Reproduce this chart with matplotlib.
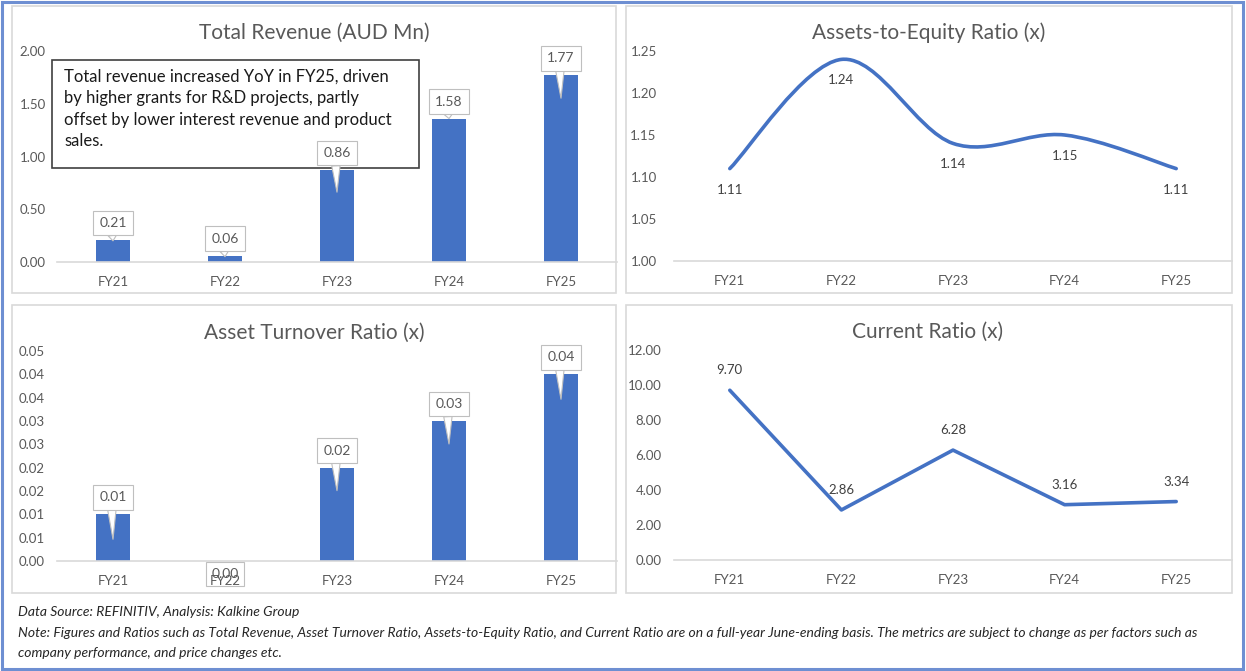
import matplotlib
matplotlib.use("Agg")
import matplotlib.pyplot as plt
import matplotlib.transforms as mtransforms
from matplotlib.patches import Rectangle, PathPatch
from matplotlib.path import Path

plt.rcParams['font.family'] = ['Lato', 'DejaVu Sans']

# --- data ---
years = ["FY21", "FY22", "FY23", "FY24", "FY25"]
revenue_bars = [0.21, 0.06, 0.87, 1.36, 1.77]      # bar heights as drawn
revenue_labels = ["0.21", "0.06", "0.86", "1.58", "1.77"]
asset_turnover = [0.01, 0.0, 0.02, 0.03, 0.04]
asset_turnover_labels = ["0.01", "0.00", "0.02", "0.03", "0.04"]
assets_to_equity = [1.11, 1.24, 1.14, 1.15, 1.11]
current_ratio = [9.70, 2.86, 6.28, 3.16, 3.34]

rev_ticks = [0.0, 0.5, 1.0, 1.5, 2.0]
ate_ticks = [1.00, 1.05, 1.10, 1.15, 1.20, 1.25]
at_ticks = [0.0, 0.005, 0.01, 0.015, 0.02, 0.025, 0.03, 0.035, 0.04, 0.045]
at_ticklabels = ["0.00", "0.01", "0.01", "0.02", "0.02", "0.03", "0.03", "0.04", "0.04", "0.05"]
cr_ticks = [0, 2, 4, 6, 8, 10, 12]

note_text = "Total revenue increased YoY in FY25, driven\nby higher grants for R&D projects, partly\noffset by lower interest revenue and product\nsales."
foot1 = "Data Source: REFINITIV, Analysis: Kalkine Group"
foot2 = ("Note: Figures and Ratios such as Total Revenue, Asset Turnover Ratio, Assets-to-Equity Ratio, and Current Ratio "
         "are on a full-year June-ending basis. The metrics are subject to change as per factors such as")
foot3 = "company performance, and price changes etc."

BLUE = "#4472C4"
GREY_TXT = "#595959"
W, H = 1246, 671

fig = plt.figure(figsize=(W / 100, H / 100), dpi=100)


def px_axes(l, t, r, b):
    return fig.add_axes([l / W, 1 - b / H, (r - l) / W, (b - t) / H])


def style(ax, ticks, ticklabels, pad_y):
    ax.set_xlim(-0.5, 4.5)
    ax.set_xticks(range(len(years)))
    ax.set_xticklabels(years)
    ax.set_yticks(ticks)
    ax.set_yticklabels(ticklabels)
    ax.set_ylim(ticks[0], ticks[-1])
    for s in ["top", "right", "left"]:
        ax.spines[s].set_visible(False)
    ax.spines["bottom"].set_color("#D9D9D9")
    ax.spines["bottom"].set_linewidth(1.2)
    ax.tick_params(axis="both", length=0, labelsize=9.5, colors=GREY_TXT)
    ax.tick_params(axis="x", pad=10)
    ax.tick_params(axis="y", pad=pad_y)
    ax.patch.set_alpha(0)


def callouts(ax, vals, labels, tips):
    for i, (v, lab, tp) in enumerate(zip(vals, labels, tips)):
        if v == 0:
            ax.annotate(lab, xy=(i, v), xytext=(0, -13), textcoords="offset pixels",
                        ha="center", va="center", fontsize=10, color=GREY_TXT,
                        annotation_clip=False,
                        bbox=dict(boxstyle="square,pad=0.4", fc="none", ec="#BFBFBF", lw=0.8))
            continue
        tip = mtransforms.offset_copy(ax.transData, fig=fig, x=0, y=-tp, units="dots")
        ax.annotate(lab, xy=(i, v), xycoords=tip, xytext=(0, tp + 17),
                    textcoords="offset pixels", ha="center", va="center",
                    fontsize=10, color=GREY_TXT, annotation_clip=False,
                    bbox=dict(boxstyle="square,pad=0.45", fc="white", ec="#BFBFBF", lw=0.8),
                    arrowprops=dict(arrowstyle="wedge,tail_width=0.6", fc="white",
                                    ec="#BFBFBF", lw=0.8, shrinkA=0, shrinkB=0,
                                    relpos=(0.45, 0.0)))


# Total Revenue
ax1 = px_axes(57, 51, 617, 262)
ax1.bar(range(len(years)), revenue_bars, width=0.31, color=BLUE)
style(ax1, rev_ticks, [f"{t:.2f}" for t in rev_ticks], 8)
callouts(ax1, revenue_bars, revenue_labels, [1, 1, 22, 0, 23])

# Assets-to-Equity (smoothed line)
ax2 = px_axes(674, 51, 1232, 261)
style(ax2, ate_ticks, [f"{t:.2f}" for t in ate_ticks], 12.5)
pts = list(zip(range(len(years)), assets_to_equity))
verts = [pts[0]]
codes = [Path.MOVETO]
n = len(pts)
for i in range(n - 1):
    p0 = pts[max(i - 1, 0)]
    p1 = pts[i]
    p2 = pts[i + 1]
    p3 = pts[min(i + 2, n - 1)]
    c1 = (p1[0] + (p2[0] - p0[0]) / 6, p1[1] + (p2[1] - p0[1]) / 6)
    c2 = (p2[0] - (p3[0] - p1[0]) / 6, p2[1] - (p3[1] - p1[1]) / 6)
    verts += [c1, c2, p2]
    codes += [Path.CURVE4] * 3
ax2.add_patch(PathPatch(Path(verts, codes), fill=False, ec=BLUE, lw=2.6,
                        capstyle="round", joinstyle="round"))
for i, v in enumerate(assets_to_equity):
    ax2.annotate(f"{v:.2f}", xy=(i, v), xytext=(0, -21), textcoords="offset pixels",
                 ha="center", va="center", fontsize=9.5, color="#404040")

# Asset Turnover
ax3 = px_axes(57, 351, 617, 561)
ax3.bar(range(len(years)), asset_turnover, width=0.31, color=BLUE)
style(ax3, at_ticks, at_ticklabels, 9)
callouts(ax3, asset_turnover, asset_turnover_labels, [25, 0, 23, 23, 25])

# Current Ratio
ax4 = px_axes(674, 350, 1232, 560)
ax4.plot(range(len(years)), current_ratio, color=BLUE, lw=2.6, solid_capstyle="round")
style(ax4, cr_ticks, [f"{t:.2f}" for t in cr_ticks], 9)
for i, v in enumerate(current_ratio):
    ax4.annotate(f"{v:.2f}", xy=(i, v), xytext=(0, 20), textcoords="offset pixels",
                 ha="center", va="center", fontsize=9.5, color="#404040")

# titles
for (x, y, t) in [(314, 33, "Total Revenue (AUD Mn)"), (929, 33, "Assets-to-Equity Ratio (x)"),
                  (314, 333, "Asset Turnover Ratio (x)"), (928, 332, "Current Ratio (x)")]:
    fig.text(x / W, 1 - y / H, t, ha="center", va="center", fontsize=15, color=GREY_TXT)

# panel borders
for (l, t, r, b) in [(12, 6, 616, 293), (626, 6, 1232, 293), (12, 305, 616, 593), (626, 305, 1232, 593)]:
    fig.patches.append(Rectangle((l / W, 1 - b / H), (r - l) / W, (b - t) / H, transform=fig.transFigure,
                                 fill=False, ec="#D9D9D9", lw=1.2, zorder=-2))

# outer border
fig.patches.append(Rectangle((1.5 / W, 1 - 668.5 / H), 1241.5 / W, 667 / H, transform=fig.transFigure,
                             fill=False, ec="#6E8FD2", lw=2.2, zorder=5))

# annotation box (behind the axes so the 0.86 callout sits on top)
fig.patches.append(Rectangle((52 / W, 1 - 168 / H), 367 / W, 108 / H, transform=fig.transFigure,
                             fc="white", ec="#404040", lw=1.2, zorder=-1))
fig.text(64 / W, 1 - 69 / H, note_text, ha="left", va="top", fontsize=12, color="#1A1A1A",
         linespacing=1.42, zorder=-0.5)

# footnotes
for y, t in [(612, foot1), (633, foot2), (653, foot3)]:
    fig.text(18 / W, 1 - y / H, t, ha="left", va="center", fontsize=10, style="italic", color="#262626")

fig.savefig("out.png", dpi=100)
